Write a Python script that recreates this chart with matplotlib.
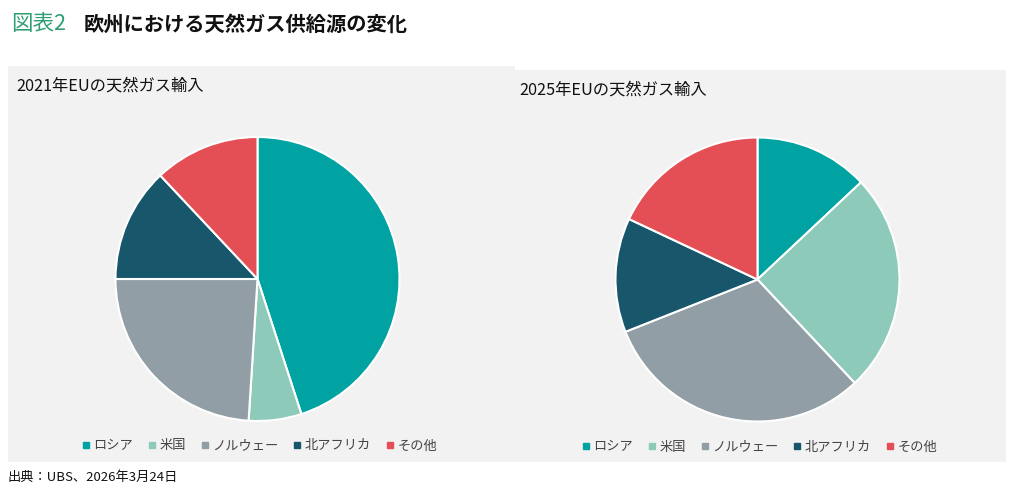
import matplotlib
matplotlib.use("Agg")
import matplotlib.pyplot as plt
from matplotlib.patches import Rectangle
from matplotlib.lines import Line2D

plt.rcParams['font.family'] = ['Noto Sans CJK JP', 'DejaVu Sans']

categories = ["ロシア", "米国", "ノルウェー", "北アフリカ", "その他"]
share_2021 = [45, 6, 24, 13, 12]
share_2025 = [13, 25, 31, 13, 18]
colors = ["#00A3A2", "#8DCAB9", "#919EA5", "#17566B", "#E44F55"]
titles = ["2021年EUの天然ガス輸入", "2025年EUの天然ガス輸入"]

W, H = 1012, 493
fig = plt.figure(figsize=(W / 100, H / 100), dpi=100)
fig.patch.set_facecolor("white")

def fx(px):
    return px / W

def fy(py):
    return 1 - py / H

# panel backgrounds
bg = "#F2F2F2"
fig.patches.append(Rectangle((fx(8), fy(462)), fx(515 - 8), (462 - 66) / H,
                             transform=fig.transFigure, facecolor=bg, edgecolor="none", zorder=-10))
fig.patches.append(Rectangle((fx(515), fy(462)), fx(1006 - 515), (462 - 70) / H,
                             transform=fig.transFigure, facecolor=bg, edgecolor="none", zorder=-10))

# main title
fig.text(fx(11), fy(24), "図表2", color="#2E9F72", fontsize=15.5, va="center", ha="left")
fig.text(fx(84), fy(24), "欧州における天然ガス供給源の変化", color="#111111", fontsize=14.6,
         fontweight="bold", va="center", ha="left")

# panel titles
fig.text(fx(16), fy(86), titles[0], fontsize=11.7, color="#111111", va="center", ha="left")
fig.text(fx(519), fy(90), titles[1], fontsize=11.7, color="#111111", va="center", ha="left")

# source
fig.text(fx(8), fy(477), "出典：UBS、2026年3月24日", fontsize=9.5, color="#111111", va="center", ha="left")

R = 142
lim = 1.03
centers = [(257.5, 279), (757.5, 279.5)]
for (cx, cy), vals in zip(centers, [share_2021, share_2025]):
    half = R * lim
    ax = fig.add_axes([fx(cx - half), fy(cy + half), 2 * half / W, 2 * half / H])
    ax.pie(vals, colors=colors, startangle=90, counterclock=False,
           wedgeprops=dict(edgecolor="white", linewidth=1.5))
    ax.set_xlim(-lim, lim)
    ax.set_ylim(-lim, lim)
    ax.set_aspect("equal")
    ax.axis("off")

handles = [Line2D([0], [0], marker="s", linestyle="none", markersize=4.5,
                  markerfacecolor=c, markeredgecolor=c) for c in colors]
for cx, ly in [(260, 446), (760, 447)]:
    leg = fig.legend(handles, categories, loc="center", bbox_to_anchor=(fx(cx), fy(ly)),
                     ncol=5, frameon=False, fontsize=9.5, handlelength=0.45,
                     handletextpad=0.35, columnspacing=1.2, borderaxespad=0)
    for t in leg.get_texts():
        t.set_color("#444444")

fig.savefig("out.png", dpi=100, facecolor="white")
